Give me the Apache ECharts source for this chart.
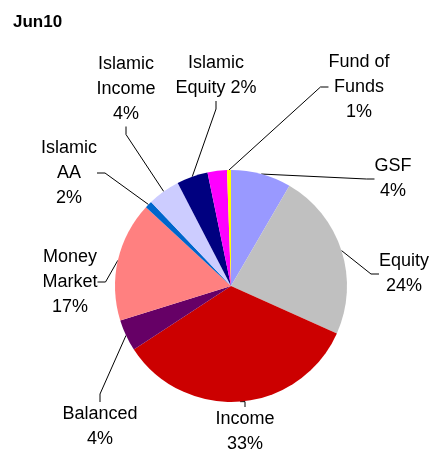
<!DOCTYPE html>
<html>
<head>
<meta charset="utf-8">
<script src="https://cdn.jsdelivr.net/npm/echarts@6/dist/echarts.min.js"></script>
<style>
  html, body { margin: 0; padding: 0; background: #fff; }
  #chart { width: 432px; height: 452px; }
</style>
</head>
<body>
<div id="chart"></div>
<script>
// slices clockwise from 12 o'clock, shares
var names = ['GSF', 'Equity', 'Income', 'Balanced', 'Money Market', 'Islamic AA',
  'Islamic Income', 'Islamic Equity', 'Other', 'Fund of Funds'];
var values = [8.4, 23.3, 34.1, 4.4, 16.7, 1.0, 4.5, 4.35, 2.7, 0.55];
// data label texts as printed on the chart
var labels = ['GSF\n4%', 'Equity\n24%', 'Income\n33%', 'Balanced\n4%', 'Money\nMarket\n17%',
  'Islamic\nAA\n2%', 'Islamic\nIncome\n4%', 'Islamic\nEquity 2%', '', 'Fund of\nFunds\n1%'];
var colors = ['#9999FF', '#C0C0C0', '#CC0000', '#660066', '#FF8080', '#0066CC',
  '#CCCCFF', '#000080', '#FF00FF', '#FFFF00'];

// where each label block sits (centre of text)
var labelPos = [[393, 179], [404, 274], [245, 432], [100, 427], [70, 282],
  [69, 173], [126, 89], [216, 76], null, [359, 87]];

var myChart = echarts.init(document.getElementById('chart'));

var data = [];
for (var i = 0; i < names.length; i++) {
  data.push({
    name: names[i],
    value: values[i],
    itemStyle: { color: colors[i] },
    label: { show: labels[i] !== '' },
    labelLine: { show: labels[i] !== '' }
  });
}

var option = {
  backgroundColor: '#ffffff',
  animation: false,
  title: {
    text: 'Jun10',
    left: 8,
    top: 9,
    textStyle: { fontFamily: 'Liberation Sans', fontSize: 17, fontWeight: 'bold', color: '#000' }
  },
  series: [
    {
      type: 'pie',
      center: [231, 286],
      radius: 116,
      startAngle: 90,
      clockwise: true,
      data: data,
      label: {
        show: true,
        position: 'outside',
        formatter: function (p) { return labels[p.dataIndex]; },
        fontFamily: 'Liberation Sans',
        fontSize: 18,
        lineHeight: 25,
        color: '#000',
        align: 'center'
      },
      labelLine: {
        show: true,
        length: 10,
        length2: 8,
        smooth: false,
        lineStyle: { color: '#000', width: 1 }
      },
      labelLayout: function (params) {
        var pos = labelPos[params.dataIndex];
        if (!pos) return {};
        return { x: pos[0], y: pos[1], align: 'center', verticalAlign: 'middle' };
      },
      emphasis: { disabled: true }
    }
  ]
};

myChart.setOption(option);
</script>
</body>
</html>
